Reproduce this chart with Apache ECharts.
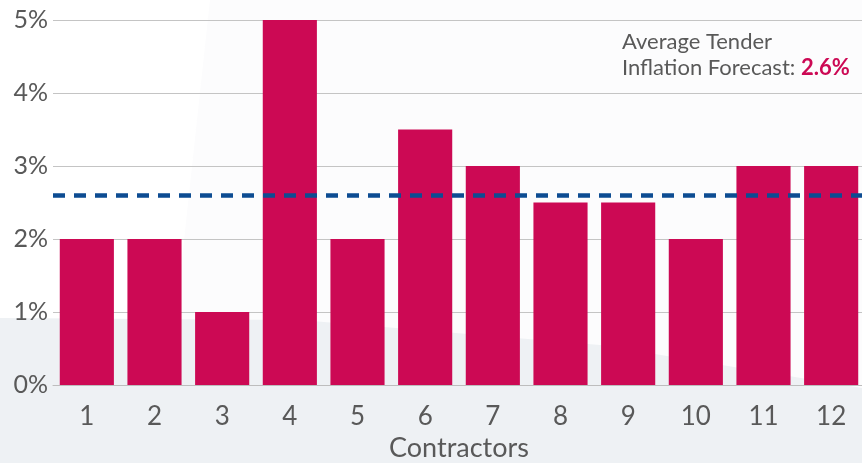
<!DOCTYPE html>
<html>
<head>
<meta charset="utf-8">
<script src="https://cdn.jsdelivr.net/npm/echarts@6/dist/echarts.min.js"></script>
<style>
  html, body { margin: 0; padding: 0; background: #ffffff; }
  #chart { width: 862px; height: 463px; }
</style>
</head>
<body>
<div id="chart"></div>
<script>
// Tender inflation forecasts submitted by each contractor (%)
const contractors = ['1', '2', '3', '4', '5', '6', '7', '8', '9', '10', '11', '12'];
const forecasts = [2, 2, 1, 5, 2, 3.5, 3, 2.5, 2.5, 2, 3, 3];
const averageForecast = 2.6;
const yTicks = [0, 1, 2, 3, 4, 5];

const barColor = '#CC0954';
const lineColor = '#0D4C92';
const textColor = '#595959';
const fontFamily = 'Lato, "Noto Sans", sans-serif';

const chart = echarts.init(document.getElementById('chart'), null, { renderer: 'canvas' });

chart.setOption({
  backgroundColor: '#ffffff',
  animation: false,
  // plot area placed explicitly; labels may sit near the edge of the canvas
  grid: { left: 53, right: -3, top: 20, bottom: 78, containLabel: false, outerBoundsMode: 'none' },
  graphic: [
    // soft backdrop panels behind the plot
    {
      type: 'polygon', z: -10, silent: true,
      shape: { points: [[210, 0], [862, 0], [862, 463], [160, 463]] },
      style: { fill: '#FCFCFD' }
    },
    {
      type: 'polygon', z: -9, silent: true,
      shape: { points: [[0, 318], [300, 320], [600, 345], [862, 388], [862, 463], [0, 463]] },
      style: { fill: '#EEF1F4' }
    },
    {
      type: 'text', left: 622, top: 29, z: 10,
      style: {
        text: 'Average Tender\nInflation Forecast: {v|' + averageForecast.toFixed(1) + '%}',
        font: '22px ' + fontFamily,
        fill: textColor,
        lineHeight: 26,
        rich: {
          v: { fontSize: 22, fontWeight: 'bold', fill: barColor, fontFamily: fontFamily, lineHeight: 26 }
        }
      }
    }
  ],
  xAxis: {
    type: 'category',
    data: contractors,
    name: 'Contractors',
    nameLocation: 'middle',
    nameGap: 50,
    nameTextStyle: { color: textColor, fontSize: 27, fontFamily: fontFamily },
    axisLine: { show: true, lineStyle: { color: '#BDBDBD', width: 1 } },
    axisTick: { show: false },
    axisLabel: { color: textColor, fontSize: 26, fontFamily: fontFamily, margin: 19 }
  },
  yAxis: {
    type: 'value',
    min: yTicks[0],
    max: yTicks[yTicks.length - 1],
    interval: 1,
    axisLine: { show: false },
    axisTick: { show: false },
    axisLabel: {
      color: textColor, fontSize: 25, fontFamily: fontFamily, margin: 5,
      formatter: v => v + '%'
    },
    splitLine: { show: true, lineStyle: { color: '#C4C4C4', width: 1 } }
  },
  series: [{
    type: 'bar',
    data: forecasts,
    barCategoryGap: '20%',
    itemStyle: { color: barColor },
    markLine: {
      silent: true,
      symbol: 'none',
      label: { show: false },
      lineStyle: { color: lineColor, width: 4.5, type: [12, 9] },
      data: [{ yAxis: averageForecast }]
    }
  }]
});
</script>
</body>
</html>
